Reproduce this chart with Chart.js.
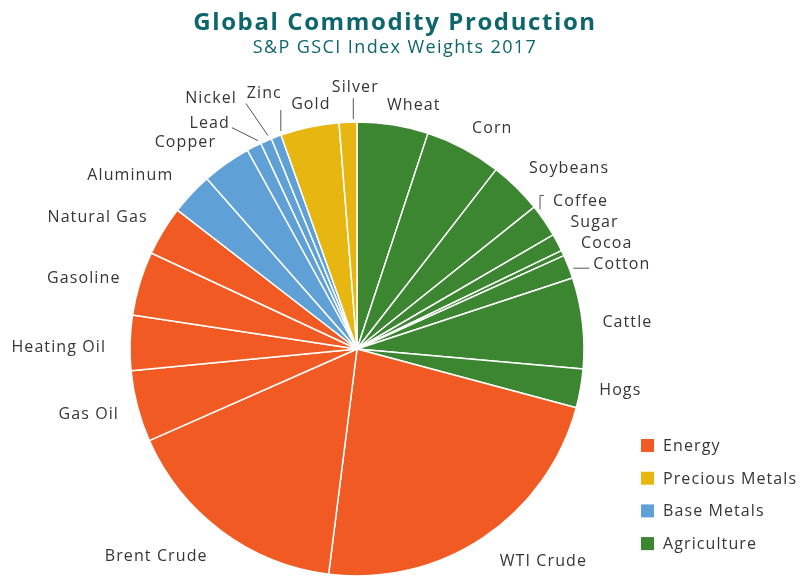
<!DOCTYPE html>
<html lang="en">
<head>
  <meta charset="UTF-8">
  <title>Global Commodity Production</title>
  <script src="https://cdn.jsdelivr.net/npm/chart.js"></script>
  <style>
    html, body {
      margin: 0;
      padding: 0;
      background: #fff;
    }

    #wrap {
      position: relative;
      width: 800px;
      height: 576px;
      overflow: hidden;
    }

    #title, #subtitle {
      position: absolute;
      left: 0;
      width: 790px;
      text-align: center;
      color: #0e666d;
      font-family: "Open Sans", sans-serif;
      white-space: nowrap;
    }

    #title {
      top: 4px;
      font-size: 24px;
      font-weight: 700;
      letter-spacing: 1.6px;
    }

    #subtitle {
      top: 34px;
      font-size: 18px;
      letter-spacing: 1.4px;
    }

    canvas {
      position: absolute;
      left: 0;
      top: 0;
    }
  </style>
</head>
<body>

  <div id="wrap">
    <canvas id="pieChart" width="800" height="576"></canvas>
    <div id="title">Global Commodity Production</div>
    <div id="subtitle">S&amp;P GSCI Index Weights 2017</div>
  </div>

  <script>
    // slices, clockwise from 12 o'clock
    const commodities = ['Wheat', 'Corn', 'Soybeans', 'Coffee', 'Sugar', 'Cocoa', 'Cotton', 'Cattle', 'Hogs',
      'WTI Crude', 'Brent Crude', 'Gas Oil', 'Heating Oil', 'Gasoline', 'Natural Gas',
      'Aluminum', 'Copper', 'Lead', 'Nickel', 'Zinc', 'Gold', 'Silver'];
    const weights = [5.06, 5.44, 3.75, 2.36, 1.25, 0.39, 1.69, 6.47, 2.75,
      22.83, 16.39, 5.08, 3.92, 4.56, 3.53,
      3.03, 3.47, 1.06, 0.81, 0.72, 4.17, 1.26];
    const sectorIndex = [3, 3, 3, 3, 3, 3, 3, 3, 3,
      0, 0, 0, 0, 0, 0,
      2, 2, 2, 2, 2, 1, 1];

    const sectors = ['Energy', 'Precious Metals', 'Base Metals', 'Agriculture'];
    const sectorColors = ['#f15a22', '#e8b611', '#5fa0d6', '#3c8531'];

    // small label tweaks (px) so crowded names don't collide
    const labelNudge = {
      'Wheat': [18, 0], 'Corn': [0, -2], 'Soybeans': [0, -4], 'Coffee': [-6, -7], 'Sugar': [-3, -10],
      'Cocoa': [2, 0], 'Cotton': [8, 6], 'Cattle': [2, 3], 'Hogs': [1, 1],
      'WTI Crude': [6, 11], 'Brent Crude': [-3, 13], 'Gas Oil': [-1, 5],
      'Heating Oil': [-6, 7], 'Gasoline': [-2, 2], 'Natural Gas': [0, -2], 'Aluminum': [-5, -4],
      'Copper': [0, -4], 'Lead': [-16, -5], 'Nickel': [-22, -24], 'Zinc': [12, -25],
      'Gold': [5, -3], 'Silver': [8, -15]
    };
    // leader lines, relative to the label anchor
    const leaders = {
      'Silver': [[-2, 11], [-2, 32]],
      'Zinc': [[-1, 17], [-1, 38]],
      'Nickel': [[9, 5], [31, 37]],
      'Lead': [[2, 4], [28, 17]],
      'Coffee': [[-13, 8], [-13, -6], [-9, -6]],
      'Cotton': [[-20, 4], [-4, 4]]
    };

    const textColor = '#363636';
    const labelFont = '16px "Open Sans", sans-serif';

    const outsideLabels = {
      id: 'outsideLabels',
      afterDatasetsDraw(chart) {
        const ctx = chart.ctx;
        const arcs = chart.getDatasetMeta(0).data;
        ctx.save();
        ctx.font = labelFont;
        ctx.letterSpacing = '1.1px';
        ctx.fillStyle = textColor;
        ctx.strokeStyle = '#555';
        ctx.lineWidth = 1;
        ctx.textBaseline = 'middle';

        arcs.forEach((arc, i) => {
          const name = commodities[i];
          const mid = (arc.startAngle + arc.endAngle) / 2;
          const d = arc.outerRadius + 18;
          const nudge = labelNudge[name] || [0, 0];
          const x = arc.x + d * Math.cos(mid) + nudge[0];
          const y = arc.y + d * Math.sin(mid) - 2 + nudge[1];
          const c = Math.cos(mid);
          ctx.textAlign = c > 0.25 ? 'left' : (c < -0.25 ? 'right' : 'center');
          ctx.fillText(name, x, y);

          const pts = leaders[name];
          if (pts) {
            ctx.beginPath();
            pts.forEach((p, k) => {
              if (k === 0) ctx.moveTo(x + p[0], y + p[1]);
              else ctx.lineTo(x + p[0], y + p[1]);
            });
            ctx.stroke();
          }
        });

        // sector legend, bottom right
        ctx.textAlign = 'left';
        sectors.forEach((s, k) => {
          const cy = 445.5 + k * 32.7;
          ctx.fillStyle = sectorColors[k];
          ctx.fillRect(641, cy - 6.5, 13, 13);
          ctx.fillStyle = textColor;
          ctx.fillText(s, 663, cy + 1);
        });
        ctx.restore();
      }
    };

    const ctx = document.getElementById('pieChart').getContext('2d');
    const pieChart = new Chart(ctx, {
      type: 'pie',
      data: {
        labels: commodities,
        datasets: [{
          data: weights,
          backgroundColor: sectorIndex.map(k => sectorColors[k]),
          borderColor: '#ffffff',
          borderWidth: 1.5
        }]
      },
      options: {
        responsive: false,
        animation: false,
        radius: 227,
        layout: {
          padding: { left: 0, right: 86, top: 122, bottom: 0 }
        },
        plugins: {
          legend: { display: false },
          tooltip: { enabled: false }
        }
      },
      plugins: [outsideLabels]
    });
  </script>

</body>
</html>
